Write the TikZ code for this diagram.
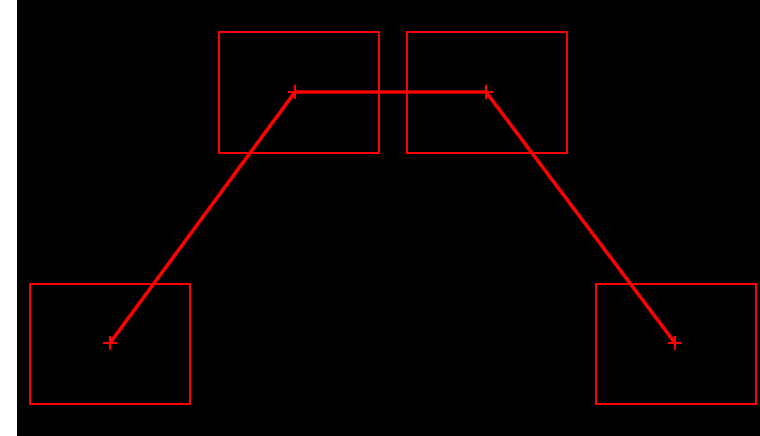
\documentclass[tikz,border=0pt]{standalone}
\usetikzlibrary{positioning}

\tikzset{
  frame/.style={draw=red, line width=2pt, minimum width=160pt, minimum height=120pt, inner sep=0pt},
  mark cross/.style={inner sep=0pt, minimum size=14pt},
  path link/.style={red, line width=3.4pt}
}

\begin{document}
\begin{tikzpicture}[x=1pt, y=-1pt]
% Background and margins
\fill[white] (0,0) rectangle (760,436);
\fill[black] (17,0) rectangle (760,436);
\useasboundingbox (0,0) rectangle (760,436);

% Boxes
\node[frame] (B1) at (109.5,344) {};
\node[frame] (B2) at (298.5,92.5) {};
\node[frame] (B3) at (487,92.5) {};
\node[frame] (B4) at (676,344) {};

% Cross points
\node[mark cross] (P1) at (110,343) {};
\node[mark cross] (P2) at (295,92) {};
\node[mark cross] (P3) at (486,92) {};
\node[mark cross] (P4) at (675,343) {};

% Crosses
\foreach \p in {P1,P2,P3,P4} {
  \draw[red, line width=2pt] (\p.west) -- (\p.east);
  \draw[red, line width=2pt] (\p.north) -- (\p.south);
}

% Path through the crosses
\draw[path link] (P1.center) -- (P2.center) -- (P3.center) -- (P4.center);

\end{tikzpicture}
\end{document}
